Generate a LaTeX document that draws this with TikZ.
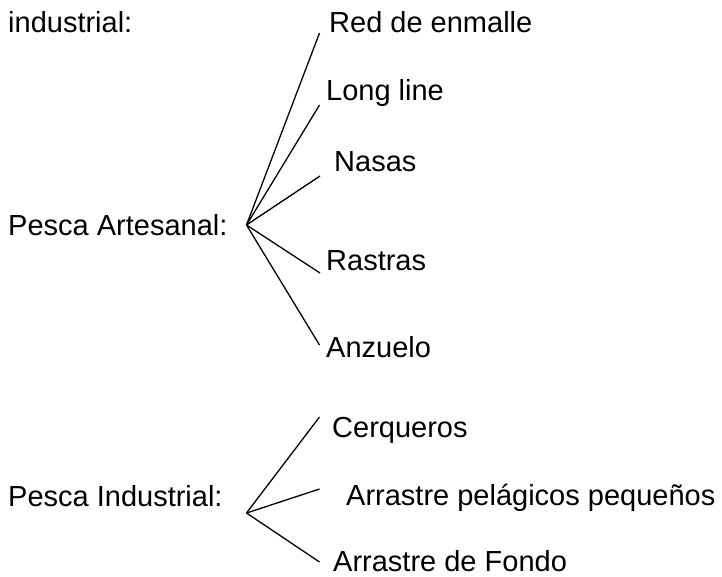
\documentclass[tikz,border=0pt]{standalone}
\usepackage{fontspec}
\setmainfont{Liberation Sans}
\begin{document}
\begin{tikzpicture}[x=1pt,y=-1pt,
  lbl/.style={anchor=base west,inner sep=0pt,font=\fontsize{29}{33}\selectfont},
  branch/.style={line width=1.3pt,black}]
\useasboundingbox (0,0) rectangle (722,576);
\fill[white] (0,0) rectangle (722,576);
% texts
\node[lbl] (ind) at (8,32) {industrial:};
\node[lbl] (pa) at (8,235) {Pesca Artesanal:};
\node[lbl] (pi) at (8,506) {Pesca Industrial:};
\node[lbl] (red) at (329,32) {Red de enmalle};
\node[lbl] (long) at (326,100) {Long line};
\node[lbl] (nas) at (334,171) {Nasas};
\node[lbl] (ras) at (326,270) {Rastras};
\node[lbl] (anz) at (326,357) {Anzuelo};
\node[lbl] (cer) at (332,437) {Cerqueros};
\node[lbl] (arp) at (346,505) {Arrastre pelágicos pequeños};
\node[lbl] (arf) at (333,571) {Arrastre de Fondo};
% hubs and branch ends
\coordinate (h1) at (246.5,225);
\coordinate (e1) at (319.5,33);
\coordinate (e2) at (319.5,105);
\coordinate (e3) at (320,176);
\coordinate (e4) at (320,273);
\coordinate (e5) at (319.5,345);
\coordinate (h2) at (246.5,513);
\coordinate (f1) at (319.5,417);
\coordinate (f2) at (319.5,489);
\coordinate (f3) at (319.5,562);
\foreach \e in {e1,e2,e3,e4,e5} \draw[branch] (h1) -- (\e);
\foreach \e in {f1,f2,f3} \draw[branch] (h2) -- (\e);
\end{tikzpicture}
\end{document}
